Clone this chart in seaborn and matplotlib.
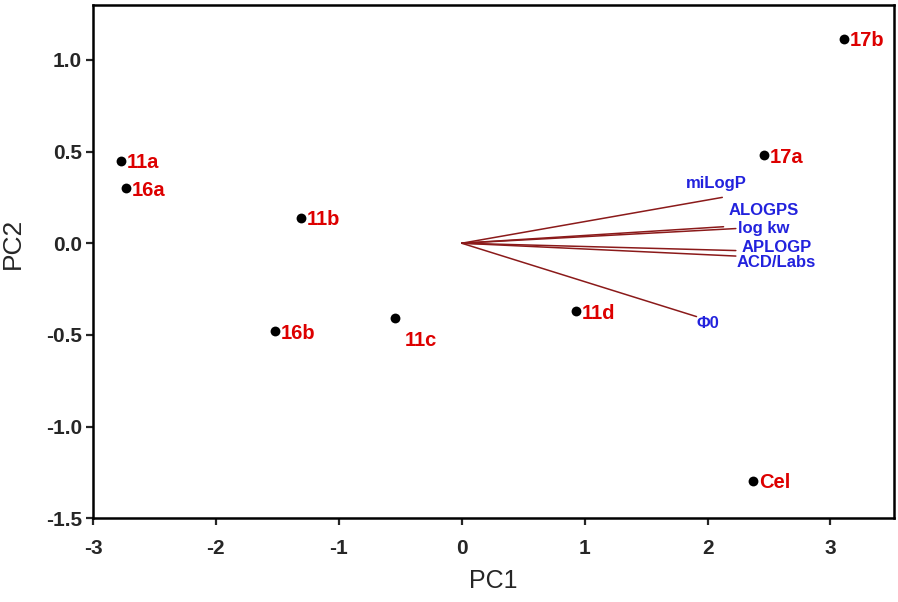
import matplotlib.pyplot as plt
import numpy as np
import pandas as pd
import seaborn as sns

# scores
compounds = ["11a", "16a", "11b", "16b", "11c", "11d", "17a", "17b", "Cel"]
pc1 = [-2.77, -2.73, -1.31, -1.52, -0.54, 0.93, 2.46, 3.11, 2.37]
pc2 = [0.45, 0.30, 0.14, -0.48, -0.41, -0.37, 0.48, 1.115, -1.295]

# loadings (vectors from origin)
descriptors = ["miLogP", "ALOGPS", "log kw", "APLOGP", "ACD/Labs", "\u03a60"]
load1 = [2.12, 2.13, 2.23, 2.23, 2.23, 1.91]
load2 = [0.25, 0.09, 0.08, -0.04, -0.07, -0.40]

sns.set_style("ticks")
plt.rcParams['font.family'] = ['Liberation Sans', 'DejaVu Sans']

scores = pd.DataFrame({"PC1": pc1, "PC2": pc2, "label": compounds})

fig = plt.figure(figsize=(8.98, 6.02), dpi=100)
ax = fig.add_axes([0.1035, 0.139, 0.8925, 0.853])

# loading vectors
for name, a, b in zip(descriptors, load1, load2):
    ax.plot([0, a], [0, b], color='#8b1a1a', lw=1.1, zorder=1)

sns.scatterplot(data=scores, x="PC1", y="PC2", color='black', s=50,
                edgecolor='black', linewidth=0, ax=ax, zorder=3)

# compound labels (offsets in pixels)
offs = {"11c": (9, -22)}
for name, x, y in zip(compounds, pc1, pc2):
    dx, dy = offs.get(name, (6, -2))
    ax.annotate(name, (x, y), xytext=(dx, dy), textcoords='offset pixels',
                color='#dd0000', fontsize=14.5, fontweight='bold',
                ha='left', va='center')

# descriptor labels
doffs = {"miLogP": (-36, 14), "ALOGPS": (5, 16), "log kw": (2, 0),
         "APLOGP": (6, 3), "ACD/Labs": (1, -6), "\u03a60": (0, -7)}
for name, a, b in zip(descriptors, load1, load2):
    dx, dy = doffs[name]
    ax.annotate(name, (a, b), xytext=(dx, dy), textcoords='offset pixels',
                color='#2222dd', fontsize=12, fontweight='bold',
                ha='left', va='center')

ax.set_xlim(-3.0, 3.52)
ax.set_ylim(-1.5, 1.3)
ax.set_xticks([-3, -2, -1, 0, 1, 2, 3])
ax.set_yticks([-1.5, -1.0, -0.5, 0.0, 0.5, 1.0])
ax.set_yticklabels(["-1.5", "-1.0", "-0.5", "0.0", "0.5", "1.0"])
ax.set_xticklabels(["-3", "-2", "-1", "0", "1", "2", "3"])

for sp in ax.spines.values():
    sp.set_linewidth(1.8)
    sp.set_color('black')
ax.tick_params(direction='out', length=5, width=1.6, labelsize=15)
ax.tick_params(axis='x', pad=10)
ax.tick_params(axis='y', pad=3)
for lab in ax.get_xticklabels() + ax.get_yticklabels():
    lab.set_fontweight('bold')

ax.set_xlabel("PC1", fontsize=18, labelpad=8)
ax.set_ylabel("PC2", fontsize=19)
ax.yaxis.set_label_coords(-0.085, 0.535)

fig.savefig("out.png", dpi=100)
